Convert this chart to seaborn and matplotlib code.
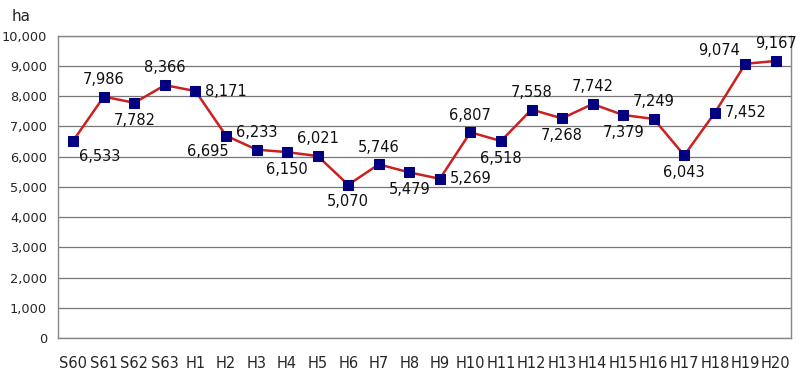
import pandas as pd
import seaborn as sns
import matplotlib.pyplot as plt
from matplotlib.ticker import FuncFormatter, MultipleLocator

years = ["S60", "S61", "S62", "S63", "H1", "H2", "H3", "H4", "H5", "H6", "H7", "H8",
         "H9", "H10", "H11", "H12", "H13", "H14", "H15", "H16", "H17", "H18", "H19", "H20"]
area = [6533, 7986, 7782, 8366, 8171, 6695, 6233, 6150, 6021, 5070, 5746, 5479,
        5269, 6807, 6518, 7558, 7268, 7742, 7379, 7249, 6043, 7452, 9074, 9167]
# where each value label sits relative to its point
label_pos = ["br", "a", "b", "a", "r", "bl", "a", "b", "a", "b", "a", "b",
             "r", "a", "b", "a", "b", "a", "b", "a", "b", "r", "al", "a"]

df = pd.DataFrame({"year": years, "area": area})

sns.set_style("white")
plt.rcParams['font.family'] = ['Liberation Sans Narrow', 'DejaVu Sans']

fig = plt.figure(figsize=(8, 3.74), dpi=100)
ax = fig.add_axes([0.0725, 0.0963, 0.9165, 0.808])

sns.lineplot(data=df, x="year", y="area", ax=ax, sort=False, color="#cc2020",
             linewidth=1.8, marker="s", markersize=6.5, markerfacecolor="#000080",
             markeredgecolor="#000080")

ax.set_xlim(-0.5, len(years) - 0.5)
ax.set_ylim(0, 10000)
ax.yaxis.set_major_locator(MultipleLocator(1000))
ax.yaxis.set_major_formatter(FuncFormatter(lambda v, p: f"{int(v):,}"))
ax.grid(axis="y", color="#777777", linewidth=0.9)
ax.set_xlabel("")
ax.set_ylabel("")
for s in ax.spines.values():
    s.set_color("#888888")
    s.set_linewidth(1.0)

# ticks at category boundaries, labels at centres
ax.set_xticks([i + 0.5 for i in range(len(years) - 1)])
ax.set_xticklabels([])
ax.set_xticks(range(len(years)), labels=years, minor=True)
ax.tick_params(axis="x", which="major", direction="in", length=4, color="#777777")
ax.tick_params(axis="x", which="minor", length=0, pad=13, labelsize=10.5)
ax.tick_params(axis="y", length=0, pad=8, labelsize=9.3)

offsets = {"a": (0, 7, "center", "bottom"), "b": (0, -7, "center", "top"),
           "r": (7, 0, "left", "center"), "br": (4, -6, "left", "top"),
           "bl": (2, -6, "right", "top"), "al": (-4, 4, "right", "bottom")}
for i, (v, p) in enumerate(zip(area, label_pos)):
    dx, dy, ha, va = offsets[p]
    ax.annotate(f"{v:,}", (i, v), xytext=(dx, dy), textcoords="offset points",
                ha=ha, va=va, fontsize=10.5, color="#111111")

fig.text(0.015, 0.955, "ha", fontsize=11, va="center", ha="left")

fig.savefig("out.png", dpi=100)
